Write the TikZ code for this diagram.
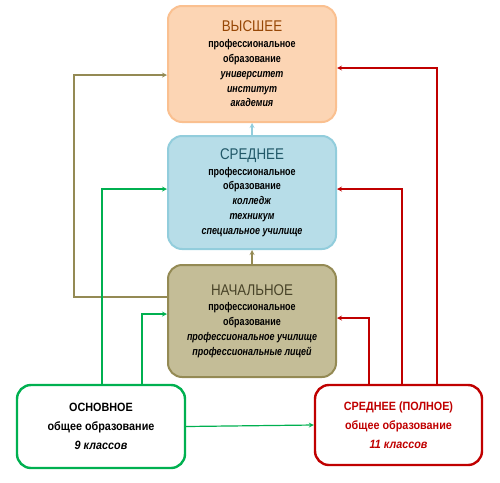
\documentclass[tikz,border=0pt]{standalone}
\usepackage{fontspec}
\setmainfont{Liberation Sans}
\newfontfamily\narrowfont[FakeStretch=0.8]{Liberation Sans}
\newfontfamily\semifont[FakeStretch=0.86]{Liberation Sans}
\newfontfamily\lowfont[FakeStretch=0.9]{Liberation Sans}
\usepackage{tikz}

\definecolor{vysfill}{HTML}{FCD5B4}
\definecolor{vysline}{HTML}{FAC090}
\definecolor{vystext}{HTML}{974706}
\definecolor{sredfill}{HTML}{B7DDE8}
\definecolor{sredline}{HTML}{92CDDC}
\definecolor{sredtext}{HTML}{215868}
\definecolor{nachfill}{HTML}{C4BD97}
\definecolor{nachline}{HTML}{948A54}
\definecolor{nachtext}{HTML}{494429}
\definecolor{grn}{HTML}{00B050}
\definecolor{rd}{HTML}{C00000}

\newcommand{\ttl}[2]{{\color{#1}\semifont\fontsize{15.5}{17}\selectfont\mdseries #2}\\[1pt]}

\begin{document}
\begin{tikzpicture}[x=1pt,y=-1pt, >=stealth,
  box/.style={rounded corners=14pt, line width=2pt, minimum width=168pt, align=center,
    font=\narrowfont\bfseries\fontsize{11.2}{14.8}\selectfont, inner sep=0pt},
  lowbox/.style={rounded corners=14pt, line width=2.4pt, fill=white, align=center,
    font=\lowfont\bfseries\fontsize{12}{19}\selectfont, inner sep=0pt},
  link/.style={->, line width=1.2pt}]
\useasboundingbox (0,0) rectangle (500,482);
\node (vys) at (252,64) [box, minimum height=116pt, draw=vysline, fill=vysfill]
  {\ttl{vystext}{ВЫСШЕЕ}профессиональное\\образование\\\textit{университет}\\\textit{институт}\\\textit{академия}};
\node (sred) at (252,192.5) [box, minimum height=113pt, draw=sredline, fill=sredfill]
  {\ttl{sredtext}{СРЕДНЕЕ}профессиональное\\образование\\\textit{колледж}\\\textit{техникум}\\\textit{специальное училище}};
\node (nach) at (252,321) [box, minimum height=112pt, draw=nachline, fill=nachfill]
  {\ttl{nachtext}{НАЧАЛЬНОЕ}профессиональное\\образование\\\textit{профессиональное училище}\\\textit{профессиональные лицей}};
\node (osn) at (101,426.5) [lowbox, minimum width=168pt, minimum height=83pt, draw=grn]
  {ОСНОВНОЕ\\общее образование\\\textit{9 классов}};
\node (poln) at (398.5,425) [lowbox, minimum width=167pt, minimum height=80pt, draw=rd, text=rd]
  {СРЕДНЕЕ (ПОЛНОЕ)\\общее образование\\\textit{11 классов}};
\draw[link, sredline] (sred) -- (vys);
\draw[link, nachline] (nach) -- (sred);
\draw[link, nachline] ([yshift=24pt]nach.west) -- ++(-93,0) |- ([yshift=-11pt]vys.west);
\draw[link, grn] ([xshift=1pt]osn.north) |- ([yshift=3.5pt]sred.west);
\draw[link, grn] ([xshift=41pt]osn.north) |- ([yshift=7pt]nach.west);
\draw[link, grn] (osn.east) -- (poln.west);
\draw[link, rd] ([xshift=-29.5pt]poln.north) |- ([yshift=3pt]nach.east);
\draw[link, rd] ([xshift=3.5pt]poln.north) |- ([yshift=3.5pt]sred.east);
\draw[link, rd] ([xshift=38.5pt]poln.north) |- ([yshift=-4pt]vys.east);
\end{tikzpicture}
\end{document}
